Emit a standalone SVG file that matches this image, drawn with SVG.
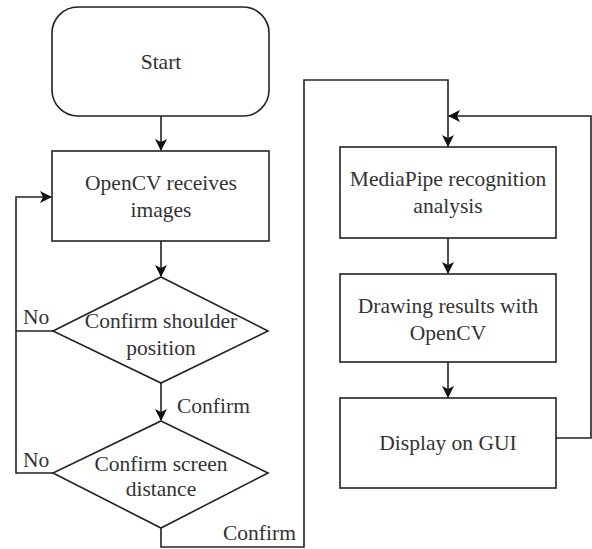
<svg xmlns="http://www.w3.org/2000/svg" width="592" height="549" viewBox="0 0 592 549">
<defs>
<marker id="a" viewBox="0 0 12 12" refX="11" refY="6" markerWidth="12" markerHeight="12" markerUnits="userSpaceOnUse" orient="auto">
<path d="M0,0 L12,6 L0,12 L3,6 Z" fill="#111"/>
</marker>
</defs>
<g id="connectors" fill="none" stroke="#222" stroke-width="1.6">
<path d="M161,116 V150" marker-end="url(#a)"/>
<path d="M161,241 V276" marker-end="url(#a)"/>
<path d="M161,383 V420" marker-end="url(#a)"/>
<path d="M53,331 H16 V197 H51" marker-end="url(#a)"/>
<path d="M53,473 H16 V331"/>
<path d="M161,528 V547 H304 V80 H448 V146" marker-end="url(#a)"/>
<path d="M448,238 V273" marker-end="url(#a)"/>
<path d="M448,362 V397" marker-end="url(#a)"/>
<path d="M556,438 H591 V116 H449" marker-end="url(#a)"/>
</g>
<g id="labels" fill="#333">
<text style="font-family:'Liberation Serif',serif;font-size:21.5px" x="23" y="324">No</text>
<text style="font-family:'Liberation Serif',serif;font-size:21.5px" x="23" y="467">No</text>
<text style="font-family:'Liberation Serif',serif;font-size:21.5px" x="177" y="413">Confirm</text>
<text style="font-family:'Liberation Serif',serif;font-size:21.5px" x="223" y="540">Confirm</text>
</g>
<g id="start">
<rect fill="#fff" stroke="#222" stroke-width="1.6" x="52" y="7" width="217" height="109" rx="26"/>
<text fill="#333" text-anchor="middle" style="font-family:'Liberation Serif',serif;font-size:21.5px" x="161" y="69">Start</text>
</g>
<g id="receive">
<rect fill="#fff" stroke="#222" stroke-width="1.6" x="52" y="151" width="217" height="90"/>
<text fill="#333" text-anchor="middle" style="font-family:'Liberation Serif',serif;font-size:21.5px" x="161" y="190">OpenCV receives</text>
<text fill="#333" text-anchor="middle" style="font-family:'Liberation Serif',serif;font-size:21.5px" x="161" y="217">images</text>
</g>
<g id="shoulder">
<polygon fill="#fff" stroke="#222" stroke-width="1.6" points="161,277 268,331 161,383 53,331"/>
<text fill="#333" text-anchor="middle" style="font-family:'Liberation Serif',serif;font-size:21.5px" x="161" y="328">Confirm shoulder</text>
<text fill="#333" text-anchor="middle" style="font-family:'Liberation Serif',serif;font-size:21.5px" x="161" y="355">position</text>
</g>
<g id="distance">
<polygon fill="#fff" stroke="#222" stroke-width="1.6" points="161,421 268,473 161,528 53,473"/>
<text fill="#333" text-anchor="middle" style="font-family:'Liberation Serif',serif;font-size:21.5px" x="161" y="471">Confirm screen</text>
<text fill="#333" text-anchor="middle" style="font-family:'Liberation Serif',serif;font-size:21.5px" x="161" y="496">distance</text>
</g>
<g id="mediapipe">
<rect fill="#fff" stroke="#222" stroke-width="1.6" x="340" y="147" width="216" height="91"/>
<text fill="#333" text-anchor="middle" style="font-family:'Liberation Serif',serif;font-size:21.5px" x="448" y="186">MediaPipe recognition</text>
<text fill="#333" text-anchor="middle" style="font-family:'Liberation Serif',serif;font-size:21.5px" x="448" y="213">analysis</text>
</g>
<g id="drawing">
<rect fill="#fff" stroke="#222" stroke-width="1.6" x="340" y="274" width="216" height="88"/>
<text fill="#333" text-anchor="middle" style="font-family:'Liberation Serif',serif;font-size:21.5px" x="448" y="313">Drawing results with</text>
<text fill="#333" text-anchor="middle" style="font-family:'Liberation Serif',serif;font-size:21.5px" x="448" y="340">OpenCV</text>
</g>
<g id="display">
<rect fill="#fff" stroke="#222" stroke-width="1.6" x="340" y="398" width="216" height="90"/>
<text fill="#333" text-anchor="middle" style="font-family:'Liberation Serif',serif;font-size:21.5px" x="448" y="450">Display on GUI</text>
</g>
</svg>
